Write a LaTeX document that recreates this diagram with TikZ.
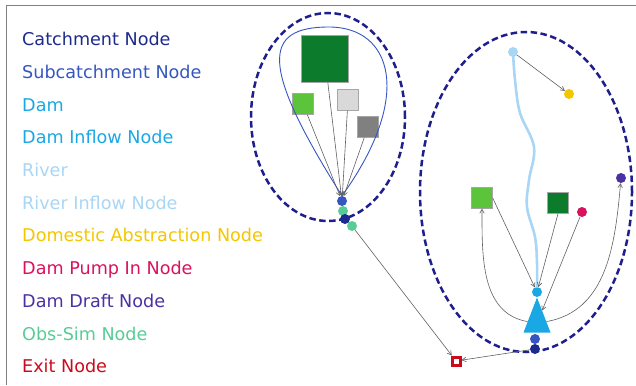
\documentclass[tikz,border=0pt]{standalone}
\usepackage{fontspec}
\setmainfont{DejaVu Sans}
\usetikzlibrary{positioning,arrows.meta,shapes.geometric}
\definecolor{navyline}{HTML}{1E1E8C}
\definecolor{catchcol}{HTML}{1C2A8E}
\definecolor{subcol}{HTML}{3556C0}
\definecolor{damcol}{HTML}{1AA8E4}
\definecolor{rivercol}{HTML}{A8D6F4}
\definecolor{domcol}{HTML}{F4C600}
\definecolor{pumpcol}{HTML}{D8125C}
\definecolor{draftcol}{HTML}{4A32A2}
\definecolor{obscol}{HTML}{58CC96}
\definecolor{exitcol}{HTML}{CC0A1E}
\definecolor{bigGreen}{HTML}{0C7C2C}
\definecolor{lightGreen}{HTML}{5CC43A}

\begin{document}
\begin{tikzpicture}[x=1pt, y=-1pt,
    legend/.style={anchor=base west, inner sep=0pt, font=\fontsize{17.6}{20}\selectfont},
    dot/.style={circle, inner sep=0pt, minimum size=10pt},
    landSq/.style={rectangle, draw=gray!70, thin, inner sep=0pt},
    region/.style={line width=2.5pt, draw=navyline, dash pattern=on 6.5pt off 3.5pt},
    link/.style={draw=gray!75!black, line width=0.6pt, -{Straight Barb[length=4pt,width=4.5pt]}},
    damTri/.style={isosceles triangle, isosceles triangle stretches, shape border rotate=90,
        fill=damcol, inner sep=0pt, minimum width=27pt, minimum height=35pt, anchor=apex}
]
    \useasboundingbox (0,0) rectangle (636,385);

    % screenshot edge
    \draw[gray, line width=1pt] (6,385) -- (6,6) -- (636,6);

    % Legenda
    \node[legend, text=catchcol] (lgCatch) at (22,45.7) {Catchment Node};
    \node[legend, text=subcol] (lgSub) at (22,78.4) {Subcatchment Node};
    \node[legend, text=damcol] (lgDam) at (22,111.1) {Dam};
    \node[legend, text=damcol] (lgInflow) at (22,143.8) {Dam Inflow Node};
    \node[legend, text=rivercol] (lgRiver) at (22,176.5) {River};
    \node[legend, text=rivercol] (lgRivIn) at (22,209.2) {River Inflow Node};
    \node[legend, text=domcol] (lgDom) at (22,241.9) {Domestic Abstraction Node};
    \node[legend, text=pumpcol] (lgPump) at (22,274.6) {Dam Pump In Node};
    \node[legend, text=draftcol] (lgDraft) at (22,307.3) {Dam Draft Node};
    \node[legend, text=obscol] (lgObs) at (22,340.0) {Obs-Sim Node};
    \node[legend, text=exitcol] (lgExit) at (22,372.7) {Exit Node};

    % Catchment regions
    \draw[region] (328,117) ellipse [x radius=77pt, y radius=104pt];
    \draw[region] (526,192) ellipse [x radius=106pt, y radius=160pt];

    % Left catchment: subcatchment and land-use squares
    \node[dot, fill=subcol] (subA) at (342,201) {};
    \node[landSq, fill=bigGreen, minimum size=47pt] (sqBig) at (325,59) {};
    \node[landSq, fill=lightGreen, minimum size=21pt] (sqLight) at (303,104) {};
    \node[landSq, fill=gray!30, minimum size=21pt] (sqPale) at (348,100) {};
    \node[landSq, fill=gray, minimum size=21pt] (sqGrey) at (368,127) {};

    % Subcatchment outline
    \draw[subcol, line width=0.9pt] (subA.north) .. controls (260,66) and (262,27) .. (329,27)
        .. controls (392,27) and (414,96) .. (subA.north);

    \draw[link] (sqBig) -- (subA);
    \draw[link] (sqLight) -- (subA);
    \draw[link] (sqPale) -- (subA);
    \draw[link] (sqGrey) -- (subA);

    \node[dot, fill=obscol] (obsA) at (343,211) {};
    \node[dot, fill=catchcol] (catA) at (345,219) {};
    \node[dot, fill=obscol] (obsB) at (352,226) {};

    % Right catchment: river, dam and abstractions
    \node[dot, fill=rivercol] (rivIn) at (513,52) {};
    \node[dot, fill=domcol] (domAbs) at (569,94) {};
    \node[dot, fill=damcol] (damIn) at (537,292) {};
    \node[damTri] (dam) at (537,297) {};
    \node[landSq, fill=lightGreen, minimum size=21pt] (sqGreenR) at (482,198) {};
    \node[landSq, fill=bigGreen, minimum size=21pt] (sqDarkR) at (558,203) {};
    \node[dot, fill=pumpcol] (pumpIn) at (582,212) {};
    \node[dot, fill=draftcol] (draft) at (621,178) {};
    \node[dot, fill=subcol] (subB) at (535,339) {};
    \node[dot, fill=catchcol] (catB) at (535,349) {};
    \node[rectangle, draw=exitcol, line width=3pt, fill=white, minimum size=8pt, inner sep=0pt] (exit) at (456,361) {};

    \draw[rivercol, line width=2.6pt, line cap=round] plot[smooth, tension=0.6] coordinates {(rivIn.center) (515,80) (520,113) (534,147) (529,180) (527,207) (535,237) (537,263) (damIn.north)};

    \draw[link] (rivIn) -- (domAbs);
    \draw[link] (sqGreenR.east) -- (damIn);
    \draw[link] (sqDarkR.south) -- (damIn);
    \draw[link] (pumpIn) -- (dam);
    \draw[link] (dam) to[out=170, in=-90] (sqGreenR.south);
    \draw[link] (dam) to[out=10, in=-95] (draft);
    \draw[link] (catB) -- (exit);
    \draw[link] (obsB) -- (exit);
\end{tikzpicture}
\end{document}
